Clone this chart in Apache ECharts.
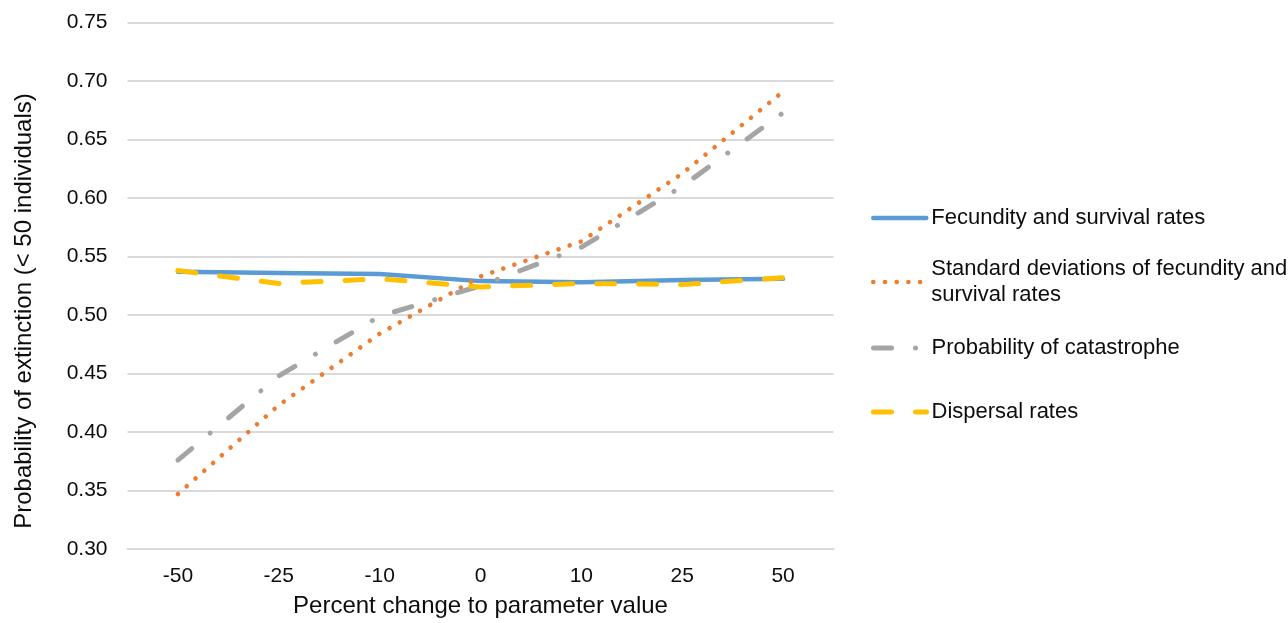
<!DOCTYPE html>
<html>
<head>
<meta charset="utf-8">
<script src="https://cdn.jsdelivr.net/npm/echarts@6/dist/echarts.min.js"></script>
<style>
html,body{margin:0;padding:0;background:#fff;}
#chart{width:1288px;height:623px;}
</style>
</head>
<body>
<div id="chart"></div>
<script>
// ---- data ----
const categories = ['-50', '-25', '-10', '0', '10', '25', '50'];
const fecundity = [0.537, 0.536, 0.535, 0.529, 0.528, 0.530, 0.531];
const stdDev = [0.347, 0.423, 0.484, 0.533, 0.563, 0.621, 0.691];
const catastrophe = [0.376, 0.448, 0.499, 0.525, 0.558, 0.610, 0.673];
const dispersal = [0.538, 0.527, 0.531, 0.524, 0.527, 0.526, 0.532];
const seriesNames = ['Fecundity and survival rates', 'Standard deviations of fecundity and survival rates', 'Probability of catastrophe', 'Dispersal rates'];
const yTitle = 'Probability of extinction (< 50 individuals)';
const xTitle = 'Percent change to parameter value';

const FONT = '"Liberation Sans", Arial, sans-serif';
const TXT = '#0d0d0d';
const styles = [
  {color: '#5B9BD5', width: 4.5, type: 'solid', cap: 'round'},
  {color: '#ED7D31', width: 4.6, type: [0.01, 11.7], cap: 'round'},
  {color: '#A5A5A5', width: 5, type: [18, 24, 0.01, 24], cap: 'round'},
  {color: '#FFC000', width: 5, type: [18, 24], cap: 'round'}
];
const dataSets = [fecundity, stdDev, catastrophe, dispersal];
const legendTops = [205, 243, 335, 399];

const chart = echarts.init(document.getElementById('chart'), null, {renderer: 'canvas'});

const legends = seriesNames.map((n, i) => ({
  data: [n],
  left: 871,
  top: legendTops[i],
  padding: 0,
  orient: 'vertical',
  itemWidth: 53,
  itemHeight: 14,
  selectedMode: false,
  lineStyle: {color: styles[i].color, width: styles[i].width, type: styles[i].type, cap: 'round'},
  itemStyle: {opacity: 0},
  textStyle: Object.assign({
    fontFamily: FONT, fontSize: 22, color: TXT, lineHeight: 26
  }, i === 1 ? {padding: [26, 0, 0, 0]} : {}),
  formatter: i === 1 ? function () { return 'Standard deviations of fecundity and\nsurvival rates'; } : undefined
}));

const option = {
  animation: false,
  backgroundColor: '#ffffff',
  grid: {left: 127.5, right: 454.5, top: 22.6, bottom: 70, containLabel: false},
  legend: legends,
  xAxis: {
    type: 'category',
    data: categories,
    boundaryGap: true,
    axisLine: {show: true, lineStyle: {color: '#d9d9d9', width: 2}},
    axisTick: {show: false},
    axisLabel: {fontFamily: FONT, fontSize: 21, color: TXT, margin: 17},
    name: xTitle,
    nameLocation: 'middle',
    nameGap: 45,
    nameTextStyle: {fontFamily: FONT, fontSize: 24, color: TXT}
  },
  yAxis: {
    type: 'value',
    min: 0.30,
    max: 0.75,
    interval: 0.05,
    axisLine: {show: false},
    axisTick: {show: false},
    splitLine: {show: true, lineStyle: {color: '#d9d9d9', width: 2}},
    axisLabel: {fontFamily: FONT, fontSize: 21, color: TXT, margin: 20,
      formatter: v => v.toFixed(2)}
  },
  graphic: [{
    type: 'text',
    x: 24,
    y: 311,
    rotation: Math.PI / 2,
    style: {
      text: yTitle,
      fontFamily: FONT,
      fontSize: 24,
      fill: TXT,
      textAlign: 'center',
      textVerticalAlign: 'middle',
      verticalAlign: 'middle'
    }
  }],
  series: seriesNames.map((n, i) => ({
    name: n,
    type: 'line',
    data: dataSets[i],
    symbol: 'none',
    showSymbol: false,
    smooth: false,
    lineStyle: styles[i],
    itemStyle: {color: styles[i].color},
    emphasis: {disabled: true}
  }))
};
chart.setOption(option);
</script>
</body>
</html>
